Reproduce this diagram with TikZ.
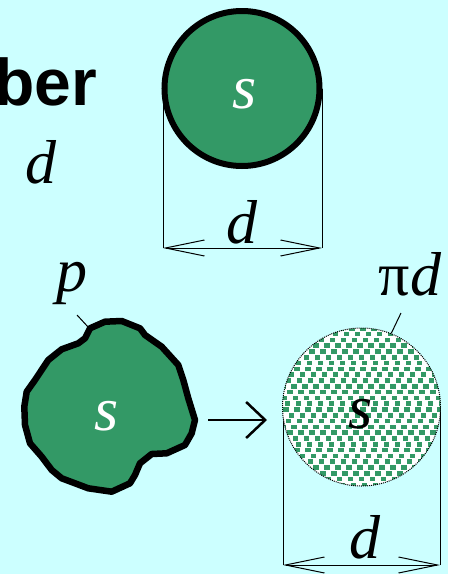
\documentclass[tikz,border=0pt]{standalone}
\usepackage{fontspec}
\setmainfont{Liberation Serif}
\newfontfamily\fonteTitulo{Liberation Sans}
\definecolor{verdeArea}{RGB}{51,153,102}
\definecolor{cianoFundo}{RGB}{204,255,255}
\usetikzlibrary{arrows.meta}
\tikzset{
  disco/.style={circle, draw=black, line width=6pt, fill=verdeArea,
                minimum size=155pt, inner sep=0pt},
  discopadrao/.style={circle, draw=black, line width=1pt, dash pattern=on 1pt off 1pt,
                      minimum size=158pt, inner sep=0pt},
  rotulo/.style={anchor=base, inner sep=0pt, font=\fontsize{62}{62}\selectfont\itshape},
  linha/.style={line width=1pt, black},
  cota/.style={linha, {Straight Barb[length=39pt,width=16pt]}-{Straight Barb[length=39pt,width=16pt]}},
  seta/.style={-{Straight Barb[length=19pt,width=36pt]}, line width=2.5pt},
}
\begin{document}
\begin{tikzpicture}[x=1pt, y=-1pt]
  \fill[cianoFundo] (0,0) rectangle (448,574);
  \useasboundingbox (0,0) rectangle (448,574);
  \node[anchor=base east, inner sep=0pt, font=\fonteTitulo\bfseries\fontsize{66}{66}\selectfont] (titulo) at (97,105) {ber};
  \node[rotulo] (dEsq) at (41,183) {d};
  % circulo de cima
  \coordinate (centroA) at (242,88.5);
  \coordinate (cAE) at (163,248);
  \coordinate (cAD) at (322,248);
  \draw[linha] (cAE |- centroA) -- (cAE);
  \draw[linha] (cAD |- centroA) -- (cAD);
  \node[disco] (discoA) at (centroA) {};
  \node[rotulo, text=white] (sA) at (245,108) {s};
  \draw[cota] (cAE) -- (cAD);
  \node[rotulo] (dA) at (242,243) {d};
  % area irregular
  \draw[line width=6.5pt, line join=round, fill=verdeArea]
    (90,328.3) -- (105,321.7) -- (121.7,321) -- (140,328.3) -- (145,335) -- (161.7,346.7)
    -- (178.3,365) -- (183.3,380) -- (188.3,398.3) -- (195,420) -- (191.7,433.3) -- (185,445)
    -- (166.7,453.3) -- (151.7,454) -- (140,463.3) -- (135,475) -- (130,483.3) -- (111.7,491.7)
    -- (88.3,488.3) -- (61.7,478.3) -- (51.7,470) -- (41.7,456.7) -- (30,443.3) -- (25,425)
    -- (24.3,406.7) -- (26.7,391.7) -- (35,380) -- (48.3,360) -- (61.7,349.3) -- (78.3,343.3)
    -- (85,338.3) -- cycle;
  \node[rotulo, text=white] (sB) at (107,430) {s};
  \node[rotulo] (rotP) at (72,291) {p};
  \coordinate (gP1) at (77,315);
  \coordinate (gP2) at (89,328);
  \draw[linha] (gP1) -- (gP2);
  \coordinate (setaIni) at (208,420);
  \coordinate (setaFim) at (267,420);
  \draw[seta] (setaIni) -- (setaFim);
  % circulo equivalente
  \coordinate (centroB) at (361.5,407);
  \coordinate (cBE) at (283,565);
  \coordinate (cBD) at (440,565);
  \draw[linha] (cBE |- centroB) -- (cBE);
  \draw[linha] (cBD |- centroB) -- (cBD);
  \begin{scope}
    \clip (centroB) circle[radius=79];
    \fill[white] (centroB) circle[radius=79];
    \foreach \r in {0,...,28}{
      \pgfmathsetmacro{\desl}{{0,5.5,2.5,8,4,9.5,1.5}[mod(\r,7)]}
      \foreach \c in {0,...,15}
        \fill[verdeArea] (272+\c*11+\desl, 326+\r*5.8) rectangle ++(5.5,4.6);
    }
  \end{scope}
  \node[discopadrao] (discoB) at (centroB) {};
  \node[rotulo] (sC) at (361,428) {s};
  \node[rotulo] (rotPi) at (410,295) {{\upshape π}d};
  \coordinate (gPi) at (401,313);
  \draw[linha] (gPi) -- (discoB.68);
  \draw[cota] (cBE) -- (cBD);
  \node[rotulo] (dB) at (365,558) {d};
\end{tikzpicture}
\end{document}
